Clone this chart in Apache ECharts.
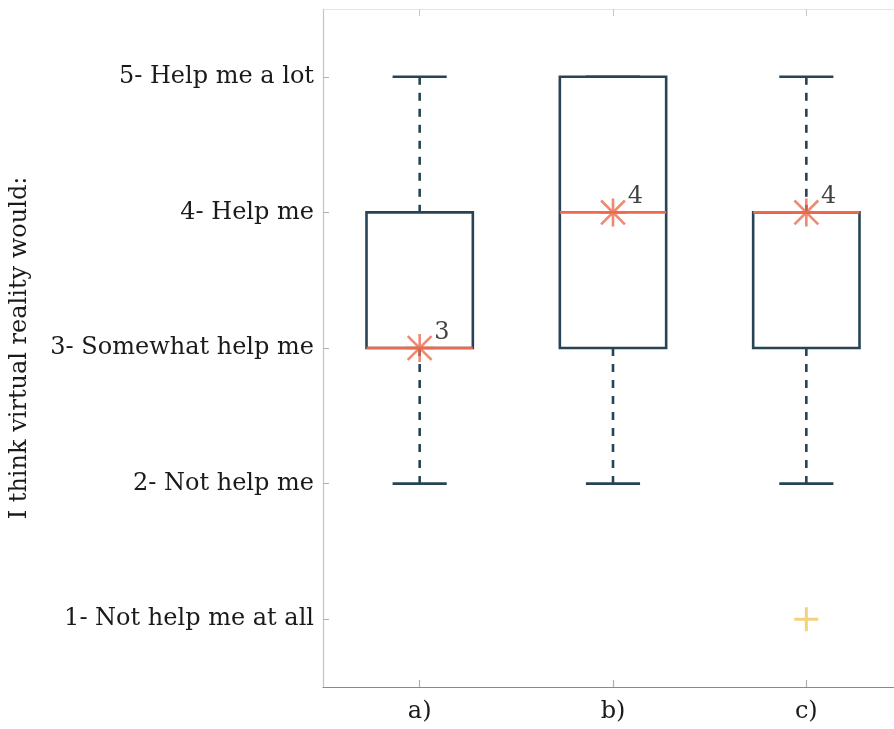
<!DOCTYPE html>
<html>
<head>
<meta charset="utf-8">
<script src="https://cdn.jsdelivr.net/npm/echarts@6/dist/echarts.min.js"></script>
<style>
  html, body { margin: 0; padding: 0; background: #ffffff; overflow: hidden; }
  /* the plot box runs a little past the right edge of the window */
  #chart { width: 903px; height: 729px; }
</style>
</head>
<body>
<div id="chart"></div>
<script>
// Survey responses per scenario: five-number summaries on a 1-5 scale
const categories = ['a)', 'b)', 'c)'];
const lowerWhisker = [2, 2, 2];
const firstQuartile = [3, 3, 3];
const medians = [3, 4, 4];
const thirdQuartile = [4, 5, 4];
const upperWhisker = [5, 5, 5];

// Points outside the whiskers
const outlierCategories = ['c)'];
const outlierValues = [1];

// Likert scale tick labels
const scaleValues = [1, 2, 3, 4, 5];
const scaleLabels = {
  1: '1- Not help me at all',
  2: '2- Not help me',
  3: '3- Somewhat help me',
  4: '4- Help me',
  5: '5- Help me a lot'
};

const FONT = 'DejaVu Serif';
const FONT_SIZE = 24;
const BOX_COLOR = '#274456';
const MEDIAN_COLOR = '#ee6a4c';
const OUTLIER_COLOR = '#f2c55c';

const boxRows = categories.map((c, i) => [
  i, lowerWhisker[i], firstQuartile[i], medians[i], thirdQuartile[i], upperWhisker[i]
]);
const medianPoints = categories.map((c, i) => [i, medians[i]]);
const outlierPoints = outlierCategories.map((c, k) => [categories.indexOf(c), outlierValues[k]]);

function renderBox(params, api) {
  const idx = api.value(0);
  const pLow = api.coord([idx, api.value(1)]);
  const pQ1 = api.coord([idx, api.value(2)]);
  const pMed = api.coord([idx, api.value(3)]);
  const pQ3 = api.coord([idx, api.value(4)]);
  const pHigh = api.coord([idx, api.value(5)]);
  const band = api.size([1, 0])[0];
  const boxHalf = band * 0.275;
  const capHalf = band * 0.14;
  const cx = pMed[0];
  const solid = { stroke: BOX_COLOR, lineWidth: 2.6, fill: null };
  const dashed = { stroke: BOX_COLOR, lineWidth: 2.6, lineDash: [8, 8], fill: null };
  const children = [];
  if (pHigh[1] < pQ3[1]) {
    children.push({ type: 'line', shape: { x1: cx, y1: pHigh[1], x2: cx, y2: pQ3[1] }, style: dashed });
  }
  if (pLow[1] > pQ1[1]) {
    children.push({ type: 'line', shape: { x1: cx, y1: pQ1[1], x2: cx, y2: pLow[1] }, style: dashed });
  }
  children.push({ type: 'line', shape: { x1: cx - capHalf, y1: pHigh[1], x2: cx + capHalf, y2: pHigh[1] }, style: solid });
  children.push({ type: 'line', shape: { x1: cx - capHalf, y1: pLow[1], x2: cx + capHalf, y2: pLow[1] }, style: solid });
  children.push({
    type: 'rect',
    shape: { x: cx - boxHalf, y: pQ3[1], width: boxHalf * 2, height: pQ1[1] - pQ3[1] },
    style: { stroke: BOX_COLOR, lineWidth: 2.6, fill: 'rgba(0,0,0,0)' }
  });
  children.push({
    type: 'line',
    shape: { x1: cx - boxHalf, y1: pMed[1], x2: cx + boxHalf, y2: pMed[1] },
    style: { stroke: MEDIAN_COLOR, lineWidth: 2.6 }
  });
  return { type: 'group', children: children };
}

const chart = echarts.init(document.getElementById('chart'), null, { renderer: 'canvas' });

chart.setOption({
  animation: false,
  backgroundColor: '#ffffff',
  grid: { left: 321, right: 0, top: 9, bottom: 42, containLabel: false },
  xAxis: [
    {
      type: 'category',
      data: categories,
      position: 'bottom',
      boundaryGap: true,
      axisLine: { show: true, lineStyle: { color: '#8a8a8a', width: 1.2 } },
      axisTick: { show: true, inside: true, length: 7, alignWithLabel: true, lineStyle: { color: '#b0b0b0', width: 1.2 } },
      axisLabel: { fontFamily: FONT, fontSize: FONT_SIZE, color: '#1a1a1a', margin: 13 },
      splitLine: { show: false }
    },
    {
      type: 'category',
      data: categories,
      position: 'top',
      boundaryGap: true,
      axisLine: { show: true, lineStyle: { color: '#e4e4e4', width: 1.2 } },
      axisTick: { show: true, inside: true, length: 7, alignWithLabel: true, lineStyle: { color: '#c8c8c8', width: 1 } },
      axisLabel: { show: false },
      splitLine: { show: false }
    }
  ],
  yAxis: {
    type: 'value',
    min: 0.5,
    max: 5.5,
    name: 'I think virtual reality would:',
    nameLocation: 'middle',
    nameRotate: 90,
    nameGap: 291,
    nameTextStyle: { fontFamily: FONT, fontSize: FONT_SIZE, color: '#1a1a1a' },
    axisLine: { show: true, lineStyle: { color: '#c4c4c4', width: 1.2 } },
    axisTick: { show: true, inside: true, length: 6, customValues: scaleValues, lineStyle: { color: '#b0b0b0', width: 1 } },
    axisLabel: {
      customValues: scaleValues,
      margin: 9,
      fontFamily: FONT,
      fontSize: FONT_SIZE,
      color: '#1a1a1a',
      formatter: function (v) { return scaleLabels[v] || ''; }
    },
    splitLine: { show: false }
  },
  series: [
    {
      type: 'custom',
      name: 'box',
      renderItem: renderBox,
      encode: { x: 0, y: [1, 2, 3, 4, 5] },
      data: boxRows,
      z: 2
    },
    {
      type: 'scatter',
      name: 'median',
      data: medianPoints,
      symbol: 'path://M0,-1L0,1M-1,0L1,0M-0.85,-0.85L0.85,0.85M-0.85,0.85L0.85,-0.85',
      symbolSize: 28,
      itemStyle: { color: 'rgba(0,0,0,0)', borderColor: MEDIAN_COLOR, borderWidth: 2.6 },
      label: {
        show: true,
        position: [30, 0],
        align: 'left',
        verticalAlign: 'middle',
        fontFamily: FONT,
        fontSize: FONT_SIZE,
        color: '#111111',
        formatter: function (p) { return p.value[1]; }
      },
      z: 3
    },
    {
      type: 'scatter',
      name: 'outlier',
      data: outlierPoints,
      symbol: 'path://M0,-1L0,1M-1,0L1,0',
      symbolSize: 24,
      itemStyle: { color: 'rgba(0,0,0,0)', borderColor: OUTLIER_COLOR, borderWidth: 3 },
      z: 3
    }
  ]
});
</script>
</body>
</html>
